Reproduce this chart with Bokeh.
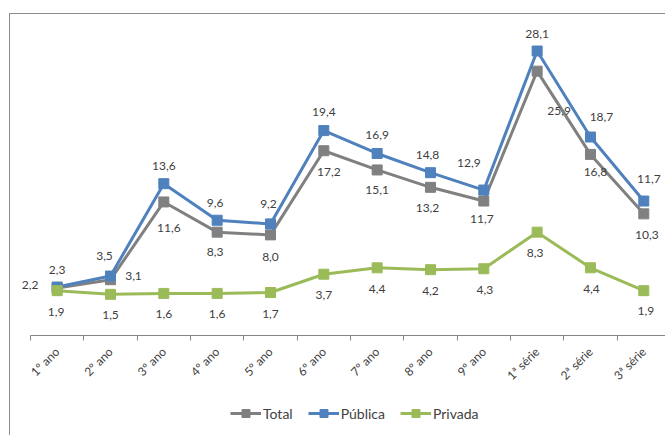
import math
from bokeh.plotting import figure
from bokeh.layouts import column
from bokeh.models import ColumnDataSource, FixedTicker, Legend, LegendItem, Range1d
from bokeh.core.properties import value
from bokeh.embed import file_html
from bokeh.resources import INLINE

categories = ["1º ano", "2º ano", "3º ano", "4º ano", "5º ano", "6º ano",
              "7º ano", "8º ano", "9º ano", "1ª série", "2ª série", "3ª série"]
total = [2.2, 3.1, 11.6, 8.3, 8.0, 17.2, 15.1, 13.2, 11.7, 25.9, 16.8, 10.3]
publica = [2.3, 3.5, 13.6, 9.6, 9.2, 19.4, 16.9, 14.8, 12.9, 28.1, 18.7, 11.7]
privada = [1.9, 1.5, 1.6, 1.6, 1.7, 3.7, 4.4, 4.2, 4.3, 8.3, 4.4, 1.9]

# label offsets in screen pixels (dx, dy downwards)
total_dx = [-27, 23, 5, -2, 0, 5, 0, -3, -2, 22, 5, 3]
total_dy = [-3, -4, 26, 20, 22, 21, 20, 21, 18, 40, 18, 21]
publica_dx = [0, -6, 0, -2, -2, 0, 0, -3, -15, 0, 11, 5]
publica_dy = [-17, -20, -18, -17, -20, -19, -18, -18, -27, -17, -20, -22]
privada_dx = [-1, 0, 0, 0, 0, 0, 0, 0, 1, -2, 1, 2]
privada_dy = [21, 21, 21, 21, 21, 21, 21, 21, 21, 21, 21, 20]

xs = list(range(len(categories)))

def fmt(v):
    return f"{v:.1f}".replace(".", ",")

p = figure(frame_width=655, frame_height=311,
           x_range=(-0.875, 11.407), y_range=(-3.0, 31.0),
           output_backend="svg", toolbar_location=None,
           min_border_left=0, min_border_right=0, min_border_top=10, min_border_bottom=60)
p.outline_line_color = None
p.background_fill_color = "white"
p.border_fill_color = "white"
p.xgrid.visible = False
p.ygrid.visible = False
p.yaxis.visible = False

ax = p.xaxis[0]
ax.bounds = (-0.5, len(categories) - 0.5)
ax.ticker = FixedTicker(ticks=xs, minor_ticks=[i - 0.5 for i in range(len(categories) + 1)])
ax.major_label_overrides = {i: c for i, c in enumerate(categories)}
ax.major_label_orientation = math.pi / 4
ax.major_tick_line_color = None
ax.major_tick_out = 0
ax.major_tick_in = 0
ax.minor_tick_line_color = "#868686"
ax.minor_tick_out = 5
ax.minor_tick_in = 0
ax.axis_line_color = "#868686"
ax.major_label_text_font = "Lato"
ax.major_label_text_font_size = "12px"
ax.major_label_text_color = "#404040"
ax.major_label_standoff = 9

series = [
    ("Total", total, "#808080", total_dx, total_dy),
    ("Pública", publica, "#4F81BD", publica_dx, publica_dy),
    ("Privada", privada, "#9BBB59", privada_dx, privada_dy),
]

for name, vals, color, dx, dy in series:
    src = ColumnDataSource(dict(x=xs, y=vals))
    p.line("x", "y", source=src, line_color=color, line_width=3)
    p.scatter("x", "y", source=src, marker="square", size=10,
              fill_color=color, line_color=color)

for name, vals, color, dx, dy in series:
    tsrc = ColumnDataSource(dict(x=xs, y=vals, t=[fmt(v) for v in vals], dx=dx, dy=dy))
    p.text("x", "y", text="t", source=tsrc, x_offset="dx", y_offset="dy",
           text_align="center", text_baseline="middle",
           text_font=value("Lato"), text_font_size="12px", text_color="#404040")

# legend strip below the chart (legend-only renderers lie outside the visible range)
pl = figure(width=655, height=40, x_range=Range1d(0, 1), y_range=Range1d(0, 1),
            output_backend="svg", toolbar_location=None, min_border=0)
pl.outline_line_color = None
pl.xaxis.visible = False
pl.yaxis.visible = False
pl.xgrid.visible = False
pl.ygrid.visible = False

items = []
for name, vals, color, dx, dy in series:
    l = pl.line(x=[-10, -9], y=[-10, -10], line_color=color, line_width=3)
    s = pl.scatter(x=[-10], y=[-10], marker="square", size=10, fill_color=color, line_color=color)
    items.append(LegendItem(label=name, renderers=[l, s]))

legend = Legend(items=items, orientation="horizontal", location=(220, 12),
                glyph_width=31, glyph_height=20, label_standoff=2, spacing=15,
                border_line_color=None, margin=0, padding=0,
                label_text_font="Lato", label_text_font_size="14px",
                label_text_color="#404040", background_fill_alpha=0)
pl.add_layout(legend, "center")

layout = column(p, pl, spacing=0)
layout.styles = {"border-left": "1px solid #8c8c8c", "border-top": "1px solid #8c8c8c",
                 "margin-top": "13px", "margin-left": "9px"}

open("out.html", "w").write(file_html(layout, INLINE))
